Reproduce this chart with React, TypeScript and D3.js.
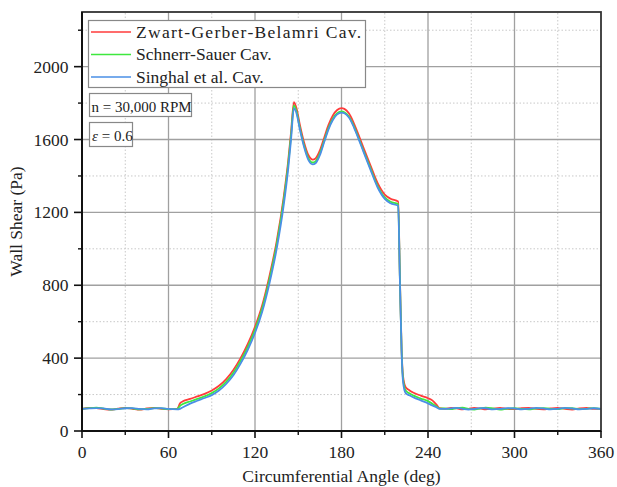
import React from "react";
import * as d3 from "d3";

const W = 617;
const H = 487;
const M = { left: 82, right: 16, top: 12, bottom: 56 };

const xMajorTicks = [0, 60, 120, 180, 240, 300, 360];
const xMinorTicks = [30, 90, 150, 210, 270, 330];
const yMajorTicks = [0, 400, 800, 1200, 1600, 2000];
const yMinorTicks = [200, 600, 1000, 1400, 1800, 2200];

const seriesNames = ["Zwart-Gerber-Belamri Cav.", "Schnerr-Sauer Cav.", "Singhal et al. Cav."];
const seriesColors = ["#ff3b3b", "#3ee83e", "#4a8fe6"];

// [angle, wall shear]
const zwart: [number, number][] = [
  [0, 122], [5, 127], [10, 126], [15, 120], [20, 117], [25, 123], [30, 127], [35, 122], [40, 117], [45, 124],
  [50, 127], [55, 122], [60, 119], [66, 121], [68, 152], [70, 163], [75, 176], [80, 190], [85, 204], [90, 222],
  [95, 248], [100, 285], [105, 335], [110, 400], [115, 478], [120, 572], [125, 690], [130, 850], [135, 1040],
  [140, 1290], [143, 1480], [145, 1640], [147, 1805], [149, 1765], [151, 1685], [154, 1585], [157, 1515],
  [160, 1490], [162, 1496], [165, 1540], [168, 1610], [171, 1680], [174, 1732], [177, 1762], [180, 1772],
  [182, 1768], [185, 1745], [188, 1700], [191, 1642], [195, 1560], [200, 1460], [205, 1362], [210, 1298],
  [214, 1275], [219.3, 1260], [220.5, 850], [221.7, 445], [222.7, 300], [224.5, 240], [227, 224], [230, 210],
  [235, 194], [240, 180], [243, 168], [246, 143], [248, 125], [252, 122], [256, 127], [260, 124], [264, 119],
  [268, 122], [272, 127], [276, 124], [280, 119], [285, 123], [290, 127], [295, 121], [300, 120], [305, 126],
  [310, 127], [315, 121], [320, 119], [325, 124], [330, 127], [335, 122], [340, 118], [345, 124], [350, 127],
  [355, 121], [360, 121]
];

const schnerr: [number, number][] = [
  [0, 121], [5, 125], [10, 128], [15, 123], [20, 118], [25, 121], [30, 126], [35, 124], [40, 119], [45, 121],
  [50, 126], [55, 124], [60, 120], [66, 120], [68, 138], [70, 148], [75, 162], [80, 176], [85, 190], [90, 208],
  [95, 234], [100, 270], [105, 320], [110, 385], [115, 462], [120, 556], [125, 674], [130, 832], [135, 1022],
  [140, 1272], [143, 1462], [145, 1622], [147, 1787], [149, 1748], [151, 1668], [154, 1568], [157, 1498],
  [160, 1474], [162, 1480], [165, 1524], [168, 1594], [171, 1664], [174, 1714], [177, 1745], [180, 1754],
  [182, 1750], [185, 1728], [188, 1684], [191, 1626], [195, 1544], [200, 1444], [205, 1346], [210, 1282],
  [214, 1258], [219.3, 1245], [220.5, 840], [221.7, 440], [222.7, 285], [224.5, 222], [227, 207], [230, 194],
  [235, 178], [240, 164], [243, 150], [246, 134], [248, 123], [252, 124], [256, 120], [260, 126], [264, 128],
  [268, 121], [272, 118], [276, 123], [280, 128], [285, 124], [290, 118], [295, 123], [300, 125], [305, 121],
  [310, 119], [315, 124], [320, 126], [325, 121], [330, 120], [335, 126], [340, 125], [345, 120], [350, 122],
  [355, 126], [360, 122]
];

const singhal: [number, number][] = [
  [0, 121], [5, 124], [10, 126], [15, 124], [20, 119], [25, 120], [30, 125], [35, 126], [40, 121], [45, 119],
  [50, 124], [55, 126], [60, 121], [66, 119], [68, 122], [70, 130], [75, 150], [80, 166], [85, 181], [90, 197],
  [95, 222], [100, 258], [105, 306], [110, 370], [115, 446], [120, 538], [125, 655], [130, 810], [135, 998],
  [140, 1245], [143, 1438], [145, 1600], [147, 1772], [149, 1738], [151, 1660], [154, 1560], [157, 1488],
  [160, 1464], [162, 1470], [165, 1514], [168, 1586], [171, 1656], [174, 1707], [177, 1738], [180, 1748],
  [182, 1744], [185, 1722], [188, 1678], [191, 1620], [195, 1538], [200, 1436], [205, 1338], [210, 1274],
  [214, 1250], [219.3, 1236], [220.5, 830], [221.7, 432], [222.7, 270], [224.5, 208], [227, 196], [230, 184],
  [235, 168], [240, 152], [243, 140], [246, 130], [248, 122], [252, 121], [256, 124], [260, 127], [264, 122],
  [268, 118], [272, 121], [276, 126], [280, 125], [285, 119], [290, 121], [295, 126], [300, 124], [305, 119],
  [310, 122], [315, 127], [320, 124], [325, 119], [330, 122], [335, 127], [340, 124], [345, 119], [350, 121],
  [355, 125], [360, 122]
];

const seriesData = [zwart, schnerr, singhal];

export default function App() {
  const x = d3.scaleLinear().domain([0, 360]).range([M.left, W - M.right]);
  const y = d3.scaleLinear().domain([0, 2300]).range([H - M.bottom, M.top]);
  const line = d3
    .line<[number, number]>()
    .x((d) => x(d[0]))
    .y((d) => y(d[1]))
    .curve(d3.curveMonotoneX);

  const x0 = M.left;
  const x1 = W - M.right;
  const y0 = H - M.bottom;
  const y1 = M.top;
  const font = "'Liberation Serif', 'Times New Roman', Times, serif";

  return (
    <svg width={W} height={H} style={{ position: "absolute", left: 0, top: 0, background: "#fff", fontFamily: font }}>
      <rect x={0} y={0} width={W} height={H} fill="#fff" />
      {/* minor grid */}
      {xMinorTicks.map((t) => (
        <line key={"xm" + t} x1={x(t)} x2={x(t)} y1={y0} y2={y1} stroke="#c8c8c8" strokeWidth={1} strokeDasharray="1.5,2" />
      ))}
      {yMinorTicks.map((t) => (
        <line key={"ym" + t} x1={x0} x2={x1} y1={y(t)} y2={y(t)} stroke="#c8c8c8" strokeWidth={1} strokeDasharray="1.5,2" />
      ))}
      {/* major grid */}
      {xMajorTicks.slice(1, -1).map((t) => (
        <line key={"xg" + t} x1={x(t)} x2={x(t)} y1={y0} y2={y1} stroke="#a0a0a0" strokeWidth={1.3} />
      ))}
      {yMajorTicks.slice(1).map((t) => (
        <line key={"yg" + t} x1={x0} x2={x1} y1={y(t)} y2={y(t)} stroke="#a0a0a0" strokeWidth={1.3} />
      ))}

      {/* series */}
      {seriesData.map((s, i) => (
        <path key={"s" + i} d={line(s) || ""} fill="none" stroke={seriesColors[i]} strokeWidth={1.8} strokeLinejoin="round" />
      ))}

      {/* frame */}
      <rect x={x0} y={y1} width={x1 - x0} height={y0 - y1} fill="none" stroke="#333" strokeWidth={1.8} />
      <line x1={x0} x2={x0} y1={y1} y2={y0 + 1} stroke="#111" strokeWidth={2} />
      <line x1={x0 - 1} x2={x1} y1={y0} y2={y0} stroke="#111" strokeWidth={2} />

      {/* x ticks */}
      {xMajorTicks.map((t) => (
        <g key={"xt" + t}>
          <line x1={x(t)} x2={x(t)} y1={y0} y2={y0 + 7} stroke="#111" strokeWidth={1.6} />
          <text x={x(t)} y={458} textAnchor="middle" fontSize={17.5} fill="#222">{t}</text>
        </g>
      ))}
      {xMinorTicks.map((t) => (
        <line key={"xmt" + t} x1={x(t)} x2={x(t)} y1={y0} y2={y0 + 4} stroke="#111" strokeWidth={1.4} />
      ))}
      {/* y ticks */}
      {yMajorTicks.map((t) => (
        <g key={"yt" + t}>
          <line x1={x0} x2={x0 - 8} y1={y(t)} y2={y(t)} stroke="#111" strokeWidth={1.6} />
          <text x={68.5} y={y(t) + 6} textAnchor="end" fontSize={17.5} fill="#222">{t}</text>
        </g>
      ))}
      {yMinorTicks.map((t) => (
        <line key={"ymt" + t} x1={x0} x2={x0 - 4} y1={y(t)} y2={y(t)} stroke="#111" strokeWidth={1.4} />
      ))}

      {/* axis titles */}
      <text x={(x0 + x1) / 2} y={482} textAnchor="middle" fontSize={17.5} fill="#222">Circumferential Angle (deg)</text>
      <text transform={`translate(22, ${(y0 + y1) / 2}) rotate(-90)`} textAnchor="middle" fontSize={17.5} fill="#222">Wall Shear (Pa)</text>

      {/* legend */}
      <rect x={88.5} y={20.5} width={277} height={67} fill="#fff" stroke="#888" strokeWidth={1.2} />
      {seriesNames.map((n, i) => (
        <g key={"lg" + i}>
          <line x1={91} x2={131} y1={32 + i * 22.5} y2={32 + i * 22.5} stroke={seriesColors[i]} strokeWidth={1.6} />
          <text
            x={136}
            y={37.5 + i * 22.5}
            fontSize={17.5}
            fill="#222"
            {...(i === 0 ? { textLength: 225, lengthAdjust: "spacing" } : {})}
          >
            {n}
          </text>
        </g>
      ))}

      {/* annotations */}
      <rect x={89.5} y={93.5} width={102} height={23} fill="#fff" stroke="#888" strokeWidth={1.2} />
      <text x={91.5} y={112} fontSize={15} fill="#222">n = 30,000 RPM</text>
      <rect x={89.5} y={122.5} width={43} height={24} fill="#fff" stroke="#888" strokeWidth={1.2} />
      <text x={92} y={141} fontSize={15} fill="#222"><tspan fontStyle="italic">ε</tspan> = 0.6</text>
    </svg>
  );
}
